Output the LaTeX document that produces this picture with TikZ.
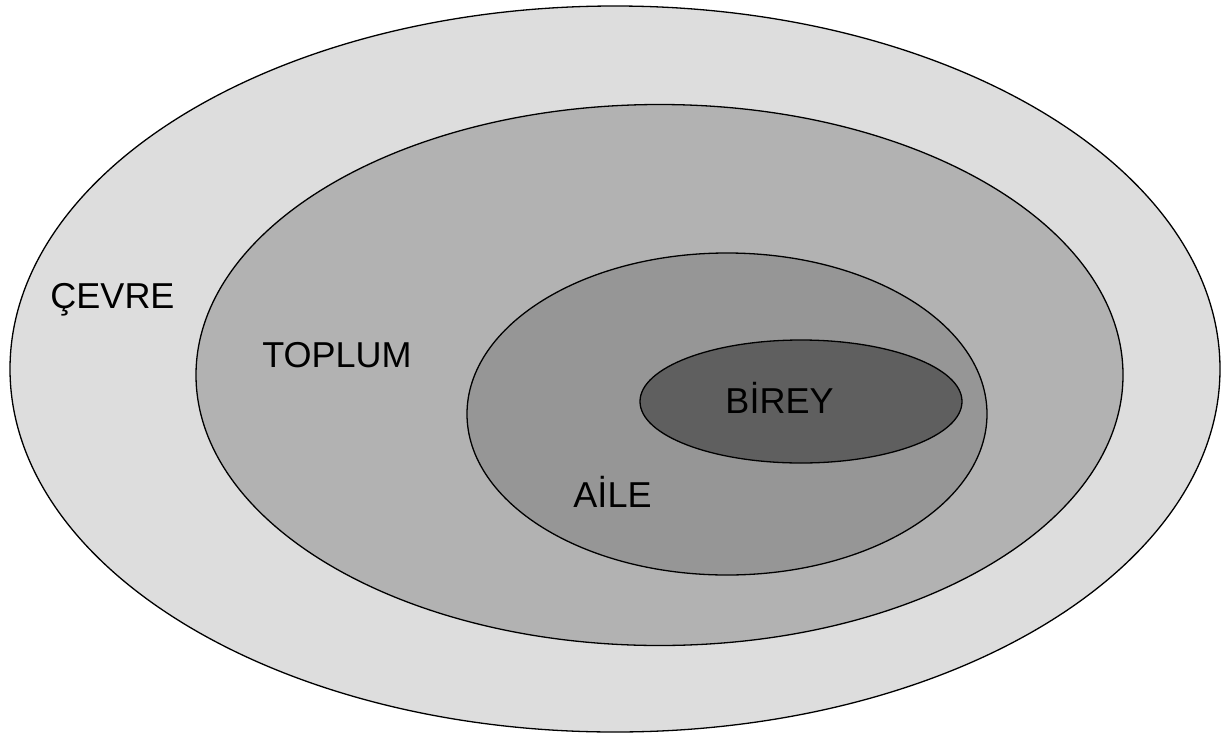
\documentclass[tikz,border=0pt]{standalone}
\usepackage{fontspec}
\setmainfont{Liberation Sans}
\usetikzlibrary{shapes.geometric}
\definecolor{c1}{HTML}{DDDDDD}
\definecolor{c2}{HTML}{B2B2B2}
\definecolor{c3}{HTML}{969696}
\definecolor{c4}{HTML}{5F5F5F}
\begin{document}
\begin{tikzpicture}[x=1pt,y=-1pt,
  ring/.style={ellipse,draw=black,line width=1.3pt,inner sep=0pt,outer sep=0pt},
  lbl/.style={anchor=base,inner sep=0pt,font=\fontsize{36}{40}\selectfont}]
\useasboundingbox (0,0) rectangle (1224,734);
\node[ring,fill=c1,minimum width=1210pt,minimum height=726pt] (cevre) at (615,369) {};
\node[ring,fill=c2,minimum width=927pt,minimum height=541pt] (toplum) at (659.5,375) {};
\node[ring,fill=c3,minimum width=520pt,minimum height=322pt] (aile) at (727,414) {};
\node[ring,fill=c4,minimum width=322pt,minimum height=123pt] (birey) at (801,401.5) {};
\node[lbl] (tcevre) at (112.5,308) {ÇEVRE};
\node[lbl] (ttoplum) at (337,367.5) {TOPLUM};
\node[lbl] (taile) at (612.5,507) {AİLE};
\node[lbl] (tbirey) at (779.5,413) {BİREY};
\end{tikzpicture}
\end{document}
